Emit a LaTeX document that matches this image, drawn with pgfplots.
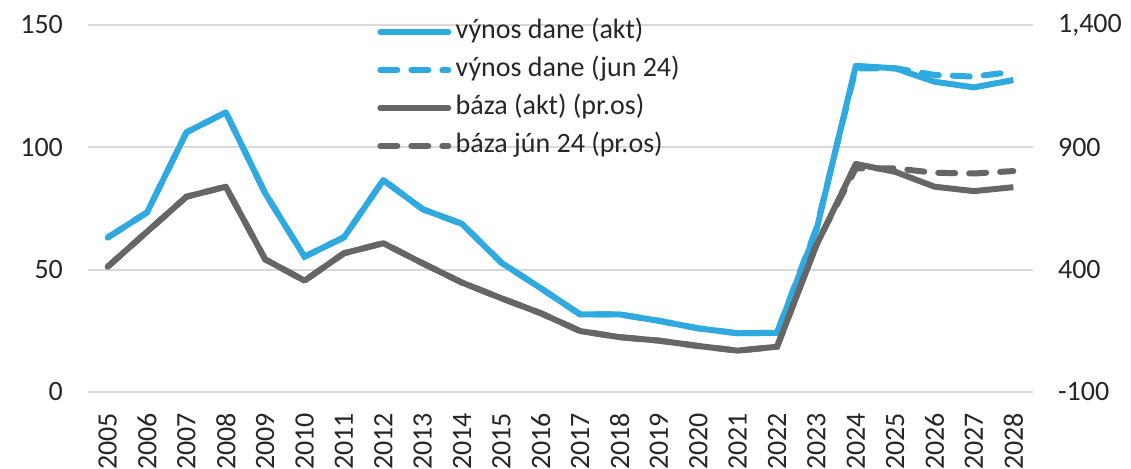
\documentclass[border=0pt]{standalone}
\usepackage{fontspec}
\setmainfont{Carlito}
\usepackage{pgfplots}
\pgfplotsset{compat=1.18}
\definecolor{cblue}{RGB}{46,170,225}
\definecolor{cgray}{RGB}{102,102,102}
\definecolor{cgrid}{RGB}{217,217,217}
\definecolor{ctext}{RGB}{38,38,38}
\pgfplotsset{common/.style={
  scale only axis, width=472.5pt, height=183.5pt,
  xmin=-0.5, xmax=23.5,
  axis line style={draw=none}, tick style={draw=none},
  /pgf/number format/assume math mode=true,
  tick label style={font=\fontsize{14}{16}\selectfont, text=ctext},
}}
\begin{document}
\begin{tikzpicture}
\useasboundingbox (-44pt,-38.5pt) rectangle (521.5pt,196pt);
\begin{axis}[common,
  ymin=0, ymax=150, ytick={0,50,100,150},
  ymajorgrids, grid style={cgrid, line width=1pt},
  xtick={0,...,23},
  xticklabels={2005,2006,2007,2008,2009,2010,2011,2012,2013,2014,2015,2016,2017,2018,2019,2020,2021,2022,2023,2024,2025,2026,2027,2028},
  xticklabel style={rotate=90, anchor=east, xshift=-7pt},
  yticklabel style={xshift=-9pt},
  legend style={at={(rel axis cs:0.2994,1.035)}, anchor=north west, draw=none, fill=none,
    font=\fontsize{14}{16}\selectfont, text=ctext, row sep=3pt, column sep=1pt,
    nodes={inner sep=1.2pt, text height=10pt, text depth=3.5pt}},
  legend cell align=left,
  legend image code/.code={\draw[#1] (1pt,0pt) -- (35pt,0pt);},
]
\addplot[cblue, line width=3pt, line cap=round, dash pattern=on 8.5pt off 7pt, forget plot] coordinates {
(0,63.1)(1,73.4)(2,106.1)(3,114.3)(4,81.2)(5,55.3)(6,63.2)(7,86.6)(8,74.7)(9,68.7)(10,52.8)(11,42.4)(12,31.7)(13,31.7)(14,29.1)(15,26.0)(16,24.0)(17,24.2)(18,67.0)(19,132.3)(20,132.3)(21,129.6)(22,128.9)(23,130.9)};
\addplot[cblue, line width=3pt, line join=round, forget plot] coordinates {
(0,63.1)(1,73.4)(2,106.1)(3,114.3)(4,81.2)(5,55.3)(6,63.2)(7,86.6)(8,74.7)(9,68.7)(10,52.8)(11,42.4)(12,31.7)(13,31.7)(14,29.1)(15,26.0)(16,24.0)(17,24.2)(18,66.2)(19,133.3)(20,132.3)(21,126.8)(22,124.5)(23,127.5)};
\addlegendimage{cblue, line width=3pt, line cap=round}
\addlegendentry{výnos dane (akt)}
\addlegendimage{cblue, line width=3pt, line cap=round, dash pattern=on 8.5pt off 7pt}
\addlegendentry{výnos dane (jun 24)}
\addlegendimage{cgray, line width=3pt, line cap=round}
\addlegendentry{báza (akt) (pr.os)}
\addlegendimage{cgray, line width=3pt, line cap=round, dash pattern=on 8.5pt off 7pt}
\addlegendentry{báza jún 24 (pr.os)}
\end{axis}
\begin{axis}[common,
  axis x line=none, axis y line*=right,
  ymin=-100, ymax=1400, ytick={-100,400,900,1400},
  /pgf/number format/1000 sep={,},
  yticklabel style={xshift=9pt},
]
\addplot[cgray, line width=3pt, line cap=round, dash pattern=on 8.5pt off 7pt] coordinates {
(0,412)(1,555)(2,698)(3,739)(4,442)(5,355)(6,467)(7,508)(8,426)(9,347)(10,283)(11,222)(12,149)(13,124)(14,110)(15,88)(16,69)(17,85)(18,505)(19,814)(20,814)(21,796)(22,793)(23,803)};
\addplot[cgray, line width=3pt, line join=round] coordinates {
(0,412)(1,555)(2,698)(3,739)(4,442)(5,355)(6,467)(7,508)(8,426)(9,347)(10,283)(11,222)(12,149)(13,124)(14,110)(15,88)(16,69)(17,85)(18,500)(19,832)(20,800)(21,739)(22,721)(23,737)};
\end{axis}
\end{tikzpicture}
\end{document}
